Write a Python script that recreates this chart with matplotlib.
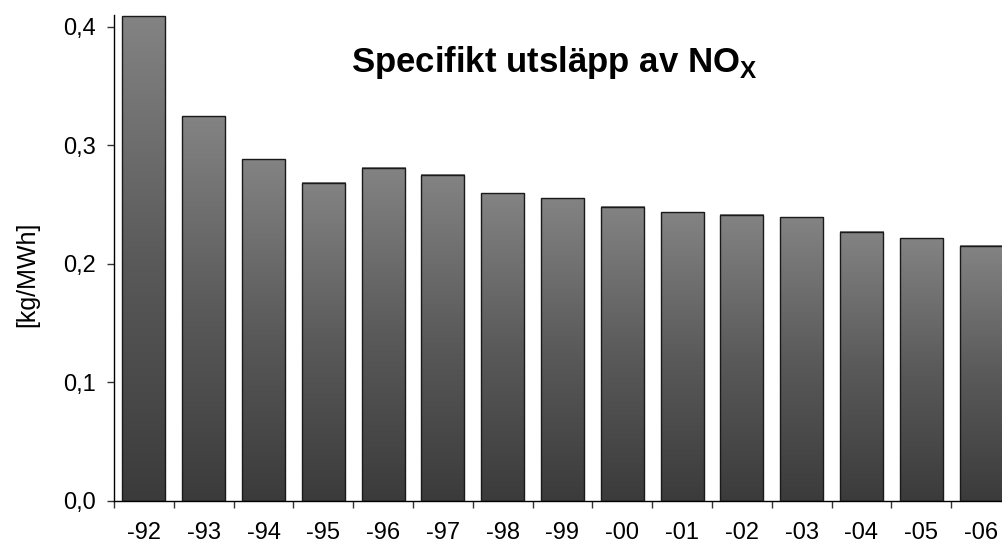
import numpy as np
import matplotlib
matplotlib.use("Agg")
import matplotlib.pyplot as plt
from matplotlib.colors import LinearSegmentedColormap

plt.rcParams['font.family'] = ['Liberation Sans', 'DejaVu Sans']
plt.rcParams['mathtext.fontset'] = 'custom'
plt.rcParams['mathtext.rm'] = 'Liberation Sans'
plt.rcParams['mathtext.bf'] = 'Liberation Sans:bold'

categories = ['-92', '-93', '-94', '-95', '-96', '-97', '-98', '-99',
              '-00', '-01', '-02', '-03', '-04', '-05', '-06']
values = [0.409, 0.3246, 0.2883, 0.2684, 0.281, 0.2754, 0.2597, 0.2554,
          0.2484, 0.2436, 0.2416, 0.2394, 0.227, 0.2217, 0.2155]
yticks = [0.0, 0.1, 0.2, 0.3, 0.4]
ytick_labels = ['0,0', '0,1', '0,2', '0,3', '0,4']
title = 'Specifikt utsläpp av NO$_\\mathbf{X}$'
ylabel = '[kg/MWh]'

W, H = 1002, 545
fig = plt.figure(figsize=(W / 100, H / 100), dpi=100)
left, right, top, bottom = 114, 1011, 15, 501
ax = fig.add_axes([left / W, (H - bottom) / H, (right - left) / W, (bottom - top) / H])

x = np.arange(len(categories))
bars = ax.bar(x, values, width=0.72, facecolor='none', edgecolor='#1a1a1a',
              linewidth=1.0, zorder=3)

cmap = LinearSegmentedColormap.from_list('g', ['#3b3b3b', '#5a5a5a', '#838383'])
grad = np.linspace(0, 1, 256).reshape(-1, 1)
for b in bars:
    x0 = b.get_x()
    w = b.get_width()
    h = b.get_height()
    ax.imshow(grad, extent=[x0, x0 + w, 0, h], origin='lower', cmap=cmap,
              aspect='auto', zorder=2, interpolation='bilinear')

ax.set_xlim(-0.5, len(categories) - 0.5)
ax.set_ylim(0, 0.41)
ax.set_aspect('auto')

ax.spines['top'].set_visible(False)
ax.spines['right'].set_visible(False)
ax.spines['left'].set_linewidth(1.0)
ax.spines['bottom'].set_linewidth(1.0)

ax.set_yticks(yticks)
ax.set_yticklabels(ytick_labels, fontsize=17)
ax.tick_params(axis='y', direction='out', length=5, width=1, pad=8, color='#333333')

ax.set_xticks(np.arange(-0.5, len(categories), 1.0))
ax.set_xticklabels([])
ax.tick_params(axis='x', which='major', direction='out', length=5, width=1, color='#333333')
ax.set_xticks(x, minor=True)
ax.set_xticklabels(categories, minor=True, fontsize=17)
ax.tick_params(axis='x', which='minor', length=0, pad=15)

fig.text(27 / W, 1 - 274 / H, ylabel, rotation=90, ha='center', va='center', fontsize=18)
fig.text(351 / W, 1 - 72 / H, title, ha='left', va='baseline', fontsize=25,
         fontweight='bold')

fig.savefig('out.png', dpi=100)
